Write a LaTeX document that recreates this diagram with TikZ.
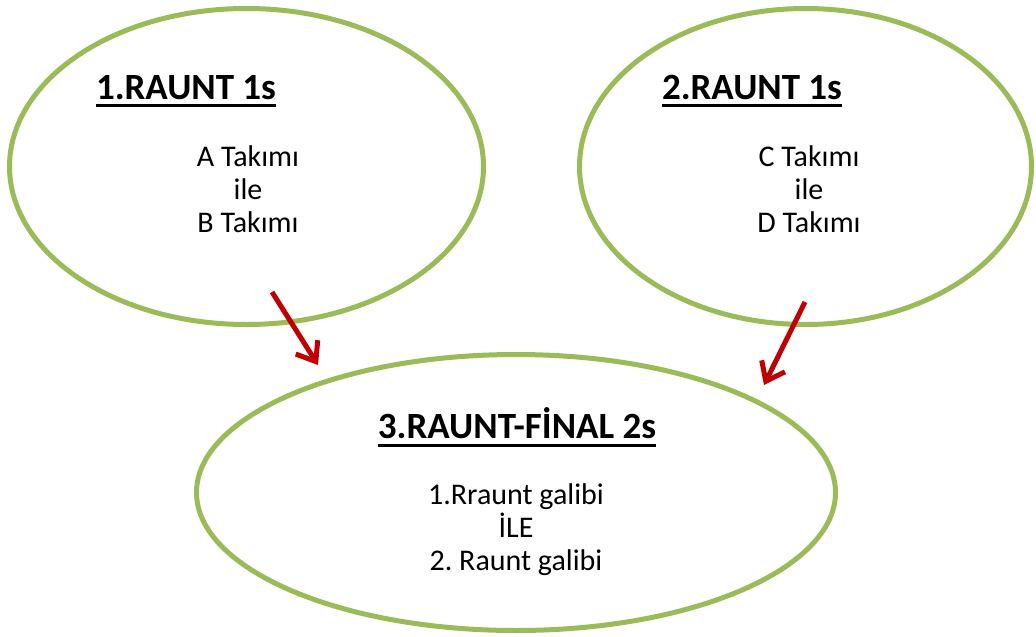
\documentclass[tikz,border=0pt]{standalone}
\usepackage{fontspec}
\setmainfont{Carlito}
\usetikzlibrary{shapes.geometric,arrows.meta}
\definecolor{ringgreen}{HTML}{9BBB59}
\definecolor{arrowred}{HTML}{C00000}
\frenchspacing
\tikzset{
  ring/.style={ellipse, draw=ringgreen, line width=5pt, inner sep=0pt},
  title/.style={font=\fontsize{37}{40}\selectfont\bfseries, inner sep=0pt, anchor=base},
  body/.style={font=\fontsize{30}{33}\selectfont, align=center, inner sep=0pt},
  uline/.style={line width=3.5pt, black},
  flow/.style={draw=arrowred, line width=5pt, -{Straight Barb[length=17pt,width=26pt]}}
}
\begin{document}
\begin{tikzpicture}[x=1pt,y=-1pt]
\useasboundingbox (0,0) rectangle (1036,637);
\node[ring, minimum width=474pt, minimum height=316pt] (e1) at (246.5,166.5) {};
\node[ring, minimum width=452pt, minimum height=316pt] (e2) at (805.5,166.5) {};
\node[ring, minimum width=639pt, minimum height=276pt] (e3) at (516,492.5) {};

\node[title] (t1) at (186,99) {1.RAUNT 1s};
\node[title] (t2) at (752,99) {2.RAUNT 1s};
\node[title] (t3) at (517,438) {3.RAUNT-FİNAL 2s};
\draw[uline] ([yshift=-6.5pt]t1.base west) -- ([yshift=-6.5pt]t1.base east);
\draw[uline] ([yshift=-6.5pt]t2.base west) -- ([yshift=-6.5pt]t2.base east);
\draw[uline] ([yshift=-7.5pt]t3.base west) -- ([yshift=-7.5pt]t3.base east);

\node[body] (b1) at (248,189) {A Takımı\\ile\\B Takımı};
\node[body] (b2) at (809,189) {C Takımı\\ile\\D Takımı};
\node[body] (b3) at (516,530) {1.Rraunt galibi\\İLE\\2. Raunt galibi};

\coordinate (a1s) at (272,292);
\coordinate (a1e) at (318,365);
\coordinate (a2s) at (805,302);
\coordinate (a2e) at (764,385);
\draw[flow] (a1s) -- (a1e);
\draw[flow] (a2s) -- (a2e);
\end{tikzpicture}
\end{document}
